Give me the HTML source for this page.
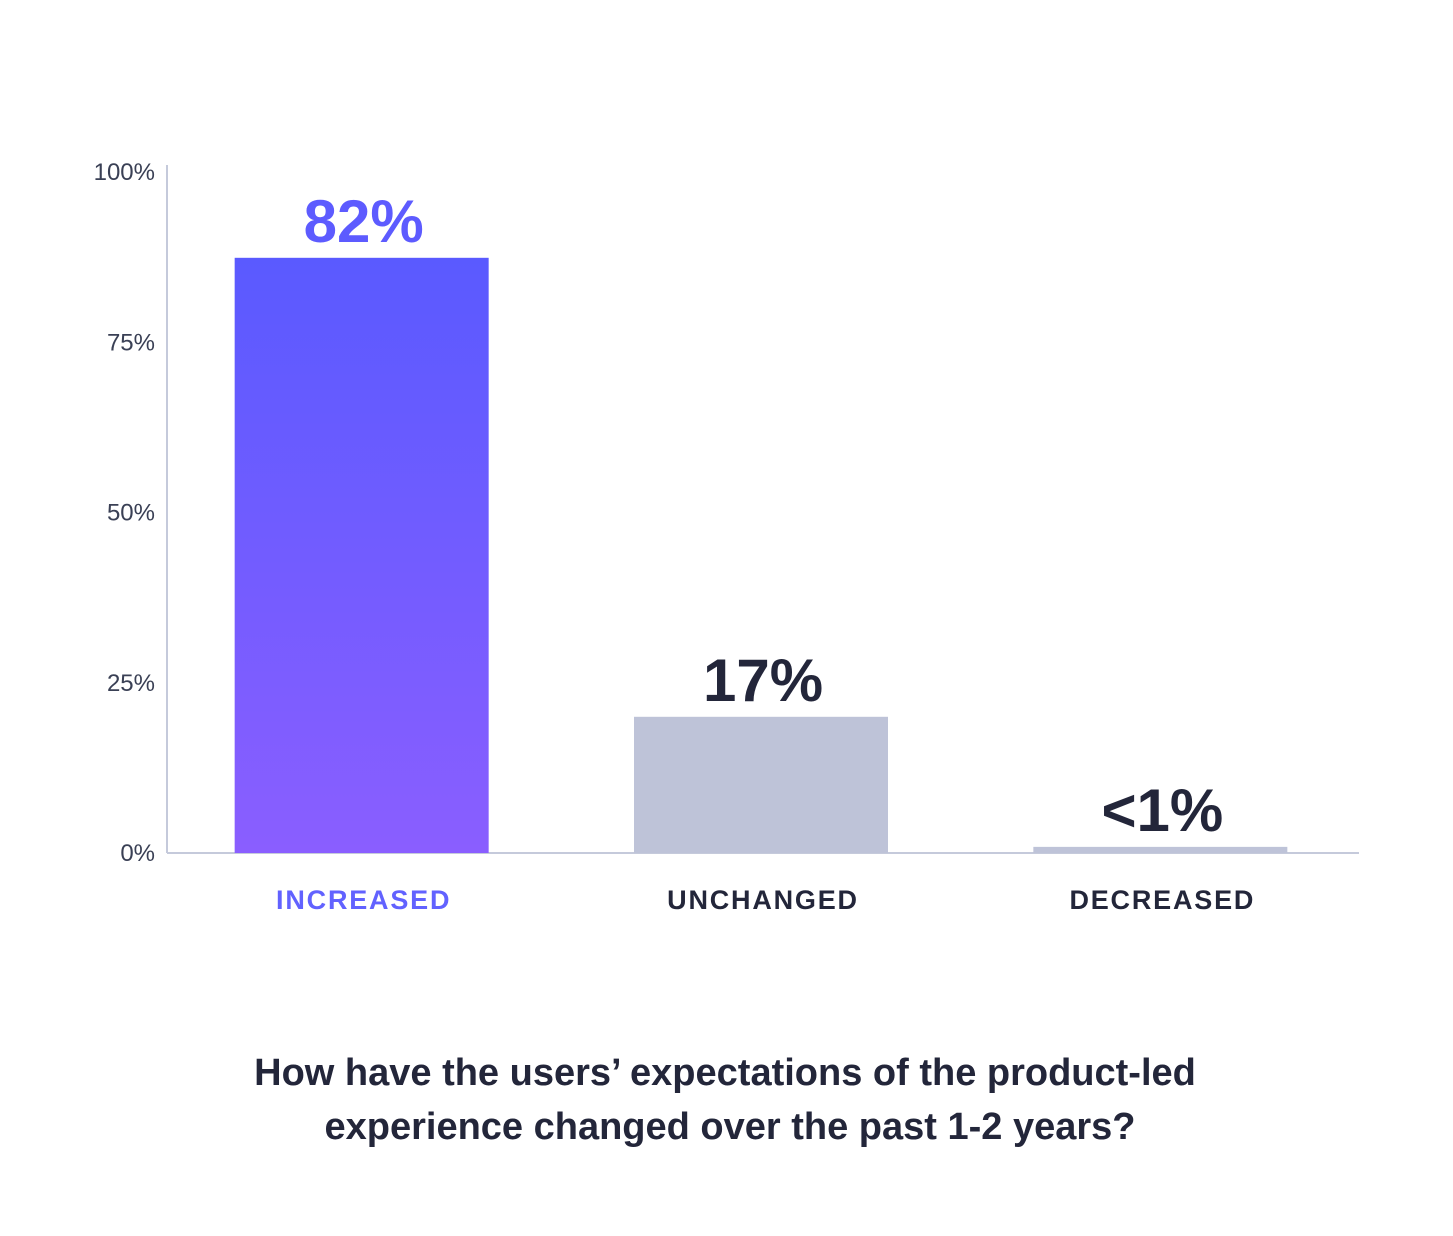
<!DOCTYPE html>
<html><head><meta charset="utf-8"><style>
html,body{margin:0;padding:0;background:#fff;}
body{width:1453px;height:1231px;overflow:hidden;font-family:"Liberation Sans",sans-serif;}
</style></head><body>
<svg id="chart" width="1453" height="1231" xmlns="http://www.w3.org/2000/svg">
<defs><linearGradient id="g1" x1="0" y1="0" x2="0" y2="1"><stop offset="0" stop-color="#5A5AFF"/><stop offset="1" stop-color="#8A5EFF"/></linearGradient></defs>
<g id="axes"></g><g id="bars"></g>
<text x="725" y="1085" text-anchor="middle" font-size="38" font-weight="bold" fill="#23263A">How have the users’ expectations of the product-led</text>
<text x="730" y="1139" text-anchor="middle" font-size="38" font-weight="bold" fill="#23263A">experience changed over the past 1-2 years?</text>
</svg>
<script>
const categories = ["INCREASED","UNCHANGED","DECREASED"];
const values = [87.4, 20, 0.9];
const valueLabels = ["82%","17%","<1%"];
const ticks = [0,25,50,75,100];
const tickLabels = ["0%","25%","50%","75%","100%"];
const NS="http://www.w3.org/2000/svg";
const y0=853, y100=172, xL=167, xR=1359;
function y(v){return y0-(y0-y100)*v/100;}
const bandW=(xR-xL)/categories.length, barW=254;
function xc(i){return xL+bandW*(i+0.5)-4+i*2;}
function mk(tag,attrs,parent){const e=document.createElementNS(NS,tag);for(const k in attrs)e.setAttribute(k,attrs[k]);parent.appendChild(e);return e;}
const axes=document.getElementById('axes'), bars=document.getElementById('bars');
let a=mk('line',{x1:xL,y1:165,x2:xL,y2:y0,stroke:'#C5CADB','stroke-width':2},axes);


ticks.forEach((t,i)=>{
  const tx=mk('text',{x:155,y:y(t)+8,'text-anchor':'end','font-size':24,fill:'#3A4055'},axes);
  tx.textContent=tickLabels[i];
  
  
});
categories.forEach((c,i)=>{
  const cx=xc(i);
  const r=mk('rect',{x:cx-barW/2,y:y(values[i]),width:barW,height:y0-y(values[i]),fill:i===0?'url(#g1)':'#BEC3D8'},bars);
  
  
  const vl=mk('text',{x:cx+2,y:y(values[i])-16,'text-anchor':'middle','font-size':60,'font-weight':'bold',fill:i===0?'#5D5BFF':'#23263A'},bars);
  vl.textContent=valueLabels[i];
  
  
  const cl=mk('text',{x:cx+2,y:909,'text-anchor':'middle','font-size':27,'font-weight':'bold','letter-spacing':'1.8',fill:i===0?'#6262FF':'#23263A'},bars);
  cl.textContent=c;
  
  
});
let b=mk('line',{x1:xL,y1:y0,x2:xR,y2:y0,stroke:'#C5CADB','stroke-width':2},axes);


</script>
</body></html>
